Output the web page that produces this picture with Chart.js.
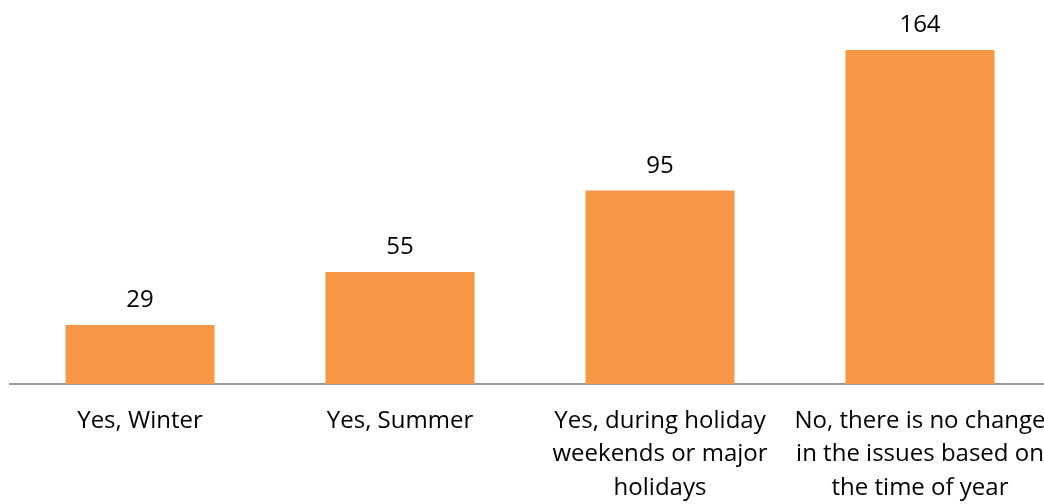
<!DOCTYPE html>
<html>
<head>
<meta charset="utf-8">
<script src="https://cdn.jsdelivr.net/npm/chart.js@4/dist/chart.umd.min.js"></script>
<style>
  html, body { margin: 0; padding: 0; background: #fff; overflow: hidden; }
  #wrap { width: 1044px; height: 504px; overflow: hidden; }
</style>
</head>
<body>
<div id="wrap">
  <canvas id="chart" width="1060" height="504"></canvas>
</div>
<script>
// Seasonal change in reported issues
const categories = [
    ["Yes, Winter"],
    ["Yes, Summer"],
    ["Yes, during holiday", "weekends or major", "holidays"],
    ["No, there is no change", "in the issues based on", "the time of year"]
];
const counts = [29, 55, 95, 164];

const FONT = "'Open Sans', 'DejaVu Sans', sans-serif";

// draws the count above each bar
const valueLabels = {
    id: "valueLabels",
    afterDatasetsDraw(chart) {
        const ctx = chart.ctx;
        const meta = chart.getDatasetMeta(0);
        ctx.save();
        ctx.font = "24px " + FONT;
        ctx.fillStyle = "#000";
        ctx.textAlign = "center";
        ctx.textBaseline = "alphabetic";
        meta.data.forEach((bar, i) => {
            ctx.fillText(String(counts[i]), bar.x, bar.y - 18);
        });
        ctx.restore();
    }
};

new Chart(document.getElementById("chart"), {
    type: "bar",
    data: {
        labels: categories,
        datasets: [{
            data: counts,
            backgroundColor: "#F79646",
            borderWidth: 0,
            barPercentage: 0.573,
            categoryPercentage: 1
        }]
    },
    options: {
        responsive: false,
        animation: false,
        layout: { padding: { left: 10, right: 10, top: 0, bottom: 0 } },
        plugins: {
            legend: { display: false },
            tooltip: { enabled: false }
        },
        scales: {
            x: {
                grid: { display: false, drawTicks: false },
                border: { display: true, color: "#999999", width: 2 },
                ticks: {
                    color: "#000",
                    font: { family: FONT, size: 24, lineHeight: 1.4 },
                    padding: 20,
                    maxRotation: 0,
                    autoSkip: false
                },
                afterFit(scale) {
                    // fixed axis band; long labels may run past the edges
                    scale.height = 120;
                    scale.paddingLeft = 0;
                    scale.paddingRight = 0;
                }
            },
            y: {
                display: false,
                min: 0,
                max: 188.6
            }
        }
    },
    plugins: [valueLabels]
});
</script>
</body>
</html>
